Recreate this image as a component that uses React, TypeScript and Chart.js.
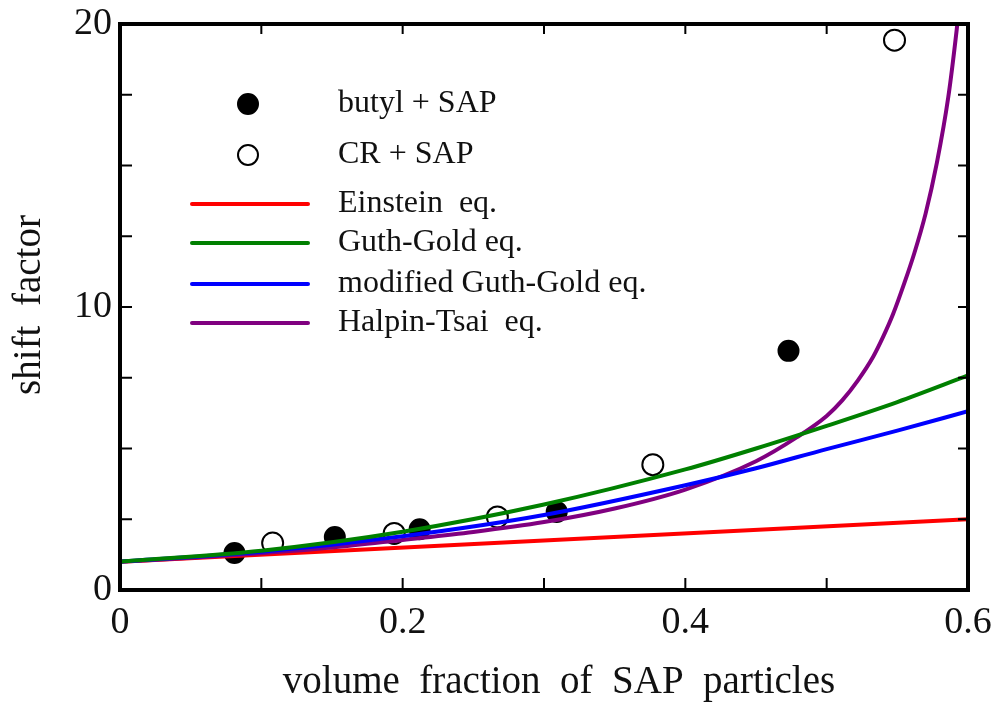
import React, { useEffect, useRef } from "react";
import { Chart, registerables } from "chart.js";

Chart.register(...registerables);

// ---- data ----
const butylX = [0.081, 0.152, 0.212, 0.309, 0.473];
const butylY = [1.31, 1.87, 2.15, 2.76, 8.45];

const crX = [0.108, 0.194, 0.267, 0.377, 0.548];
const crY = [1.66, 2.0, 2.58, 4.43, 19.43];

const einsteinX = [0, 0.6];
const einsteinY = [1, 2.5];

const guthX = [0, 0.1, 0.2, 0.3, 0.4, 0.45, 0.5, 0.55, 0.6];
const guthY = [1, 1.39, 2.06, 3.02, 4.26, 5.0, 5.8, 6.64, 7.58];

const modGuthX = [0, 0.1, 0.2, 0.3, 0.4, 0.45, 0.5, 0.55, 0.6];
const modGuthY = [1, 1.35, 1.9, 2.65, 3.7, 4.3, 4.98, 5.63, 6.32];

const halpinX = [0, 0.05, 0.1, 0.15, 0.2, 0.25, 0.3, 0.35, 0.4, 0.45, 0.479, 0.5, 0.511, 0.522, 0.533, 0.54, 0.547, 0.555, 0.562, 0.57, 0.578, 0.586, 0.592, 0.596];
const halpinY = [1, 1.14, 1.3, 1.5, 1.77, 2.05, 2.4, 2.88, 3.55, 4.55, 5.4, 6.15, 6.7, 7.4, 8.25, 8.95, 9.75, 10.85, 11.9, 13.3, 15.1, 17.4, 19.8, 21.7];

const X_TICKS = [0, 0.1, 0.2, 0.3, 0.4, 0.5, 0.6];
const X_LABELS = ["0", "", "0.2", "", "0.4", "", "0.6"];
const Y_TICKS = [0, 2.5, 5, 7.5, 10, 12.5, 15, 17.5, 20];
const Y_LABELS = ["0", "", "", "", "10", "", "", "", "20"];

const X_TITLE = "volume  fraction  of  SAP  particles";
const Y_TITLE = "shift  factor";

const LEGEND_LABELS = [
  "butyl + SAP",
  "CR + SAP",
  "Einstein  eq.",
  "Guth-Gold eq.",
  "modified Guth-Gold eq.",
  "Halpin-Tsai  eq.",
];

const FONT = "'Liberation Serif', 'Times New Roman', serif";

const zip = (xs: number[], ys: number[]) => xs.map((x, i) => ({ x, y: ys[i] }));

const framePlugin = {
  id: "frame",
  afterDraw(chart: any) {
    const { ctx, chartArea, scales } = chart;
    const { left, right, top, bottom } = chartArea;
    ctx.save();
    ctx.strokeStyle = "#000";
    ctx.lineWidth = 2;
    X_TICKS.forEach((v) => {
      if (v === 0 || v === 0.6) return;
      const px = scales.x.getPixelForValue(v);
      ctx.beginPath();
      ctx.moveTo(px, bottom);
      ctx.lineTo(px, bottom - 12);
      ctx.moveTo(px, top);
      ctx.lineTo(px, top + 10);
      ctx.stroke();
    });
    Y_TICKS.forEach((v) => {
      if (v === 0 || v === 20) return;
      const py = scales.y.getPixelForValue(v);
      ctx.beginPath();
      ctx.moveTo(left, py);
      ctx.lineTo(left + 12, py);
      ctx.moveTo(right, py);
      ctx.lineTo(right - 10, py);
      ctx.stroke();
    });
    ctx.lineWidth = 4;
    ctx.strokeRect(left, top, right - left, bottom - top);

    // axis titles
    ctx.fillStyle = "#111";
    ctx.font = `39px ${FONT}`;
    ctx.textAlign = "center";
    ctx.textBaseline = "middle";
    ctx.fillText(X_TITLE, 559, 683);
    ctx.save();
    ctx.translate(30, 305);
    ctx.rotate(-Math.PI / 2);
    ctx.fillText(Y_TITLE, 0, 0);
    ctx.restore();

    // legend
    const rows = [104, 155, 204, 243, 284, 323];
    const ds = chart.data.datasets;
    ctx.font = `32px ${FONT}`;
    ctx.textBaseline = "middle";
    ctx.textAlign = "left";
    LEGEND_LABELS.forEach((label, i) => {
      const d = ds.find((s: any) => s.label === label);
      const y = rows[i];
      if (d.showLine) {
        ctx.strokeStyle = d.borderColor;
        ctx.lineWidth = 4;
        ctx.lineCap = "round";
        ctx.beginPath();
        ctx.moveTo(192, y);
        ctx.lineTo(308, y);
        ctx.stroke();
      } else {
        ctx.beginPath();
        ctx.arc(248, y, 10, 0, Math.PI * 2);
        ctx.fillStyle = d.backgroundColor;
        ctx.fill();
        ctx.lineWidth = 2;
        ctx.strokeStyle = "#000";
        ctx.stroke();
      }
      ctx.fillStyle = "#111";
      ctx.fillText(label, 338, y);
    });
    ctx.restore();
  },
};

export default function App() {
  const ref = useRef<HTMLCanvasElement | null>(null);

  useEffect(() => {
    document.body.style.margin = "0";
    if (!ref.current) return;
    Chart.defaults.font.family = FONT;
    Chart.defaults.color = "#111";
    const lineDs = (label: string, xs: number[], ys: number[], color: string, order: number) => ({
      label,
      data: zip(xs, ys),
      showLine: true,
      borderColor: color,
      backgroundColor: color,
      borderWidth: 4,
      pointRadius: 0,
      cubicInterpolationMode: "monotone",
      order,
    });
    const chart = new Chart(ref.current, {
      type: "scatter",
      data: {
        datasets: [
          {
            label: LEGEND_LABELS[0],
            data: zip(butylX, butylY),
            showLine: false,
            pointRadius: 10,
            pointBorderWidth: 2,
            borderColor: "#000",
            backgroundColor: "#000",
            order: 4,
          },
          {
            label: LEGEND_LABELS[1],
            data: zip(crX, crY),
            showLine: false,
            pointRadius: 10.5,
            pointBorderWidth: 2,
            borderColor: "#000",
            backgroundColor: "#fff",
            order: 5,
          },
          lineDs(LEGEND_LABELS[2], einsteinX, einsteinY, "#ff0000", 3),
          lineDs(LEGEND_LABELS[3], guthX, guthY, "#008000", 0),
          lineDs(LEGEND_LABELS[4], modGuthX, modGuthY, "#0000ff", 1),
          lineDs(LEGEND_LABELS[5], halpinX, halpinY, "#800080", 2),
        ] as any,
      },
      options: {
        animation: false,
        responsive: false,
        maintainAspectRatio: false,
        layout: { padding: { top: 24, right: 30, left: 0, bottom: 0 } },
        plugins: { legend: { display: false }, tooltip: { enabled: false } },
        scales: {
          x: {
            type: "linear",
            min: 0,
            max: 0.6,
            grid: { display: false, drawTicks: false },
            border: { display: false },
            afterBuildTicks: (s: any) => {
              s.ticks = X_TICKS.map((v) => ({ value: v }));
            },
            afterFit: (s: any) => {
              s.height = 118;
              s.paddingLeft = 0;
              s.paddingRight = 0;
            },
            ticks: {
              font: { size: 38 },
              padding: 10,
              maxRotation: 0,
              autoSkip: false,
              callback: (v: any, i: number) => X_LABELS[i],
            },
            title: { display: false },
          },
          y: {
            type: "linear",
            min: 0,
            max: 20,
            grid: { display: false, drawTicks: false },
            border: { display: false },
            afterBuildTicks: (s: any) => {
              s.ticks = Y_TICKS.map((v) => ({ value: v }));
            },
            afterFit: (s: any) => {
              s.width = 120;
              s.paddingTop = 0;
              s.paddingBottom = 0;
            },
            ticks: {
              font: { size: 38 },
              padding: 8,
              autoSkip: false,
              callback: (v: any, i: number) => Y_LABELS[i],
            },
            title: { display: false },
          },
        },
      },
      plugins: [framePlugin],
    } as any);
    return () => chart.destroy();
  }, []);

  return (
    <div style={{ width: 998, height: 708 }}>
      <canvas ref={ref} width={998} height={708} style={{ display: "block" }} />
    </div>
  );
}
